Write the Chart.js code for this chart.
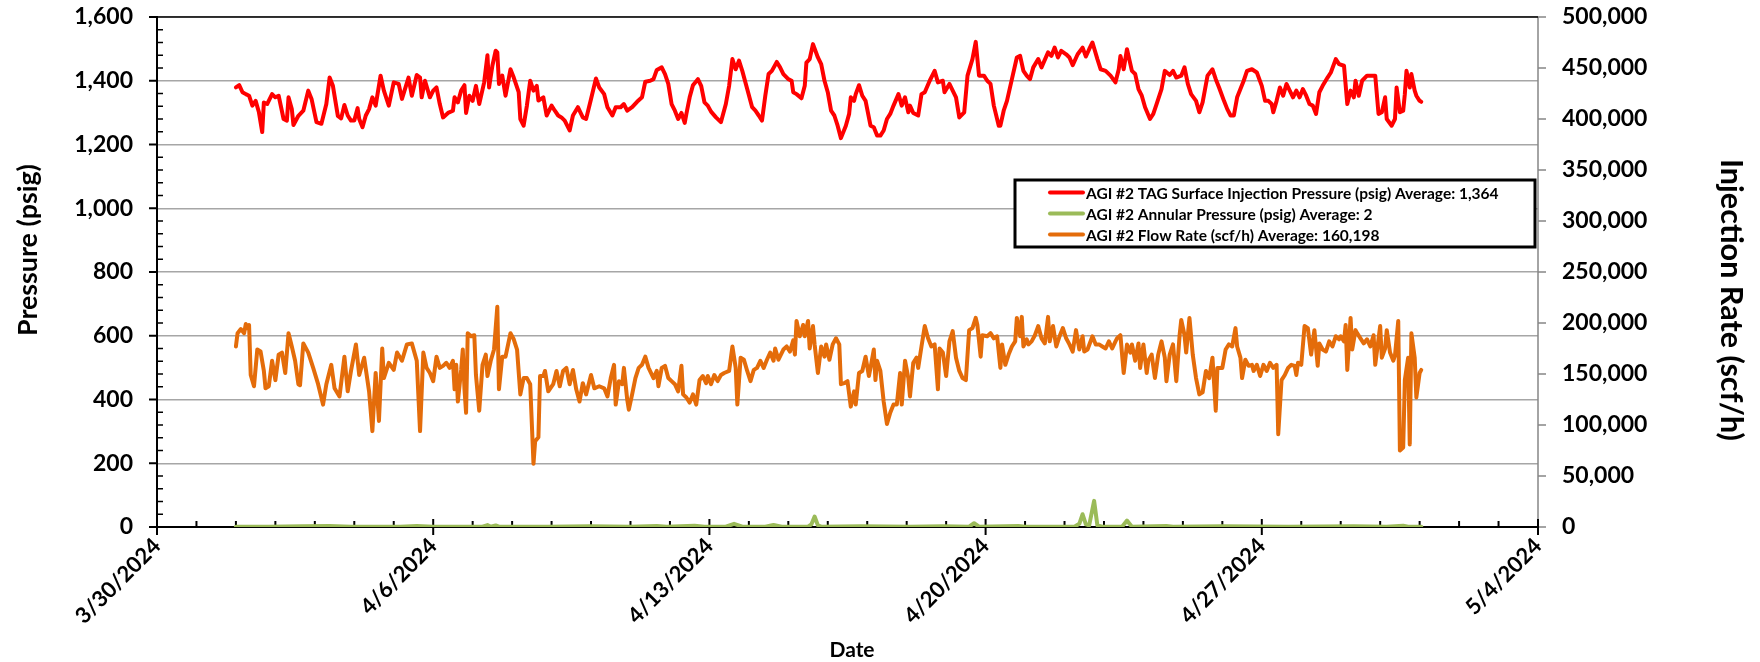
<!DOCTYPE html>
<html><head><meta charset="utf-8"><title>AGI #2 Pressure and Injection Rate</title>
<script src="https://cdn.jsdelivr.net/npm/chart.js@4.4.1/dist/chart.umd.min.js"></script>
<style>html,body{margin:0;padding:0;background:#fff;overflow:hidden}canvas{display:block}</style>
</head><body>
<canvas id="chart" width="1760" height="662" style="width:1760px;height:662px"></canvas>
<script>
// ---------------- DATA ----------------
// x axis: days counted from 3/30/2024; data hours counted from 4/1/2024 00:00
const axisStart = [2024, 2, 30];          // 3/30/2024
const xTickDays = [0, 7, 14, 21, 28, 35];  // 3/30 ... 5/4
const dataStartDay = 2;                   // 4/1/2024
const leftTicks = [0, 200, 400, 600, 800, 1000, 1200, 1400, 1600];
const rightTicks = [0, 50000, 100000, 150000, 200000, 250000, 300000, 350000, 400000, 450000, 500000];
const seriesNames = [
  'AGI #2 TAG Surface Injection Pressure (psig) Average: 1,364',
  'AGI #2 Annular Pressure (psig) Average: 2',
  'AGI #2 Flow Rate (scf/h) Average: 160,198'
];
const axisTitles = { left: 'Pressure (psig)', right: 'Injection Rate (scf/h)', bottom: 'Date' };

// [hour since 4/1 00:00, psig]
const injectionPressure = [
[0,1379],[2,1386],[4,1364],[6,1358],[8,1353],[10,1322],[12,1337],[14,1301],[16,1239],[17,1332],[19,1327],[22,1358],[24,1348],[26,1353],[29,1280],[31,1275],[32,1348],[34,1311],[35,1261],[38,1290],[41,1306],[44,1369],[46,1343],[49,1270],[52,1265],[55,1327],[57,1410],[59,1384],[62,1290],[64,1282],[66,1324],[68,1291],[70,1275],[72,1275],[74,1314],[75,1280],[77,1254],[79,1291],[81,1311],[83,1348],[85,1322],[88,1416],[90,1369],[93,1322],[96,1395],[99,1390],[101,1343],[105,1410],[107,1353],[110,1418],[112,1410],[113,1348],[115,1400],[118,1348],
[120,1369],[122,1379],[124,1327],[126,1285],[129,1299],[132,1306],[133,1348],[135,1332],[137,1369],[139,1386],[140,1299],[142,1353],[144,1337],[146,1384],[148,1327],[151,1395],[153,1480],[154,1379],[156,1447],[158,1494],[159,1489],[160,1390],[162,1416],[164,1353],[167,1436],[169,1410],[172,1364],[173,1280],[175,1259],[177,1322],[179,1400],[181,1369],[183,1384],[184,1338],[187,1348],[189,1291],[192,1322],[194,1306],[196,1291],[198,1285],[200,1275],[203,1244],[205,1291],[208,1317],[211,1285],[213,1280],[216,1343],[219,1407],[221,1379],[224,1358],[226,1317],[229,1291],[231,1317],[234,1317],[236,1327],[238,1306],
[241,1317],[244,1334],[247,1348],[249,1397],[252,1400],[254,1405],[256,1434],[259,1442],[261,1421],[263,1390],[265,1327],[267,1306],[269,1280],[271,1299],[273,1268],[274,1296],[276,1348],[278,1386],[281,1405],[283,1384],[285,1332],[287,1322],[289,1303],[292,1285],[295,1270],[298,1327],[300,1384],[302,1468],[304,1436],[306,1463],[308,1431],[311,1374],[314,1317],[316,1306],[318,1291],[320,1275],[322,1353],[324,1421],[326,1431],[329,1459],[331,1442],[333,1421],[336,1405],[338,1400],[339,1364],[341,1358],[344,1345],[346,1384],[347,1457],[349,1468],[351,1515],[354,1473],[356,1452],
[358,1400],[360,1364],[362,1306],[364,1291],[366,1259],[368,1220],[371,1259],[373,1296],[374,1348],[376,1337],[377,1358],[379,1386],[381,1353],[383,1337],[386,1259],[388,1254],[390,1228],[392,1228],[394,1244],[396,1280],[398,1296],[400,1322],[403,1358],[405,1322],[407,1348],[409,1301],[410,1322],[412,1299],[415,1291],[417,1358],[419,1364],[422,1400],[425,1431],[427,1395],[430,1400],[431,1364],[434,1390],[436,1369],[438,1348],[440,1285],[443,1301],[445,1416],[448,1468],[450,1522],[452,1416],[455,1416],[457,1400],[459,1390],[461,1322],[464,1259],[465,1259],[467,1306],[469,1337],[472,1405],[475,1473],[477,1478],
[479,1431],[481,1416],[483,1405],[485,1442],[488,1468],[490,1442],[494,1489],[496,1478],[498,1504],[500,1473],[502,1494],[505,1483],[507,1473],[509,1449],[512,1483],[515,1504],[517,1476],[519,1499],[521,1520],[524,1468],[526,1436],[529,1431],[532,1416],[535,1395],[537,1436],[538,1478],[540,1436],[542,1499],[545,1431],[547,1421],[549,1374],[551,1353],[553,1317],[556,1280],[558,1296],[560,1327],[563,1374],[565,1431],[568,1418],[570,1431],[572,1410],[575,1416],[577,1442],[579,1390],[581,1358],[584,1337],[586,1301],[588,1332],[591,1416],[594,1436],[596,1405],[598,1379],
[601,1337],[603,1311],[605,1291],[607,1291],[609,1348],[611,1374],[613,1400],[615,1431],[618,1436],[621,1426],[624,1384],[626,1337],[628,1337],[630,1327],[631,1301],[633,1337],[635,1379],[637,1353],[639,1390],[641,1369],[643,1348],[645,1369],[647,1348],[649,1374],[651,1353],[653,1327],[655,1322],[657,1296],[659,1364],[661,1384],[664,1410],[666,1426],[669,1468],[671,1452],[674,1447],[676,1327],[678,1369],[680,1348],[681,1400],[683,1353],[685,1400],[688,1416],[691,1416],[693,1416],[695,1296],[697,1301],[699,1348],[700,1280],[703,1259],[705,1280],[706,1379],[708,1301],[710,1306],[711,1358],[712,1431],[714,1379],[715,1421],[717,1369],[718,1353],[720,1337],[721,1334]
];

// [hour since 4/1 00:00, psig]
const annularPressure = [
[0,1],[20,1],[40,2],[57,3],[70,1],[100,1],[110,3],[120,1],[150,1],[153,6],[155,1],[158,5],[160,1],[190,1],[215,2],[240,1],[256,3],[262,1],[279,4],[285,1],[298,1],[303,10],[308,1],[322,1],[327,6],[332,1],[348,1],[350,8],[352,33],[354,5],[356,1],[380,2],[410,1],[430,2],[446,1],[449,12],[452,1],[476,3],[480,1],[510,1],[513,10],[515,40],[517,8],[519,5],[522,82],[524,5],[527,1],[539,1],[542,20],[545,1],[566,3],[570,1],[600,2],[640,1],[680,2],[700,1],[710,4],[713,1],[721,1]
];

// [hour since 4/1 00:00, thousand scf/h]
const flowRateK = [
[0,177],[1,190],[3,194],[5,190],[6,199],[7,195],[8,198],[9,149],[11,138],[13,174],[15,172],[17,153],[18,136],[20,138],[22,163],[24,144],[26,169],[28,171],[30,151],[32,190],[34,177],[36,163],[38,140],[39,139],[41,180],[44,171],[47,156],[50,140],[53,120],[55,140],[58,159],[60,136],[63,128],[66,167],[68,133],[70,153],[73,179],[75,149],[78,166],[81,133],[83,94],[85,151],[87,104],[89,175],[90,146],[93,161],[96,154],[98,171],[101,163],[104,179],[107,180],[110,163],[112,94],[114,171],[116,156],[118,151],
[120,143],[122,167],[124,156],[126,158],[128,161],[130,156],[132,163],[133,135],[134,159],[135,123],[137,154],[138,174],[139,136],[140,112],[141,190],[143,187],[145,188],[146,149],[148,114],[150,159],[152,169],[153,148],[155,163],[157,174],[159,216],[160,135],[162,167],[164,167],[167,190],[169,184],[171,174],[173,130],[175,146],[177,146],[179,140],[181,62],[182,84],[184,88],[185,148],[187,148],[188,153],[190,133],[193,140],[195,153],[197,138],[199,153],[201,156],[203,140],[205,154],[207,135],[209,123],[211,141],[213,130],[216,149],[218,136],[221,138],[224,136],[226,128],[228,146],[230,159],[231,120],[233,143],[235,140],[236,156],[238,125],
[239,115],[241,130],[243,146],[245,156],[247,159],[249,167],[251,156],[254,146],[256,153],[257,138],[259,156],[261,158],[263,146],[265,143],[267,140],[269,133],[271,158],[272,130],[274,127],[276,122],[278,130],[280,120],[282,144],[284,148],[286,141],[287,148],[289,140],[291,149],[293,143],[295,149],[297,151],[300,153],[302,177],[304,156],[305,120],[307,166],[309,164],[311,153],[313,143],[315,154],[317,156],[319,163],[321,156],[323,164],[325,171],[327,163],[328,175],[330,164],[333,174],[335,177],[337,172],[339,183],[340,169],[341,202],[343,187],[345,198],[346,187],[348,202],[349,175],[351,197],[352,179],[354,151],[356,177],[358,167],
[359,179],[361,164],[363,179],[365,185],[367,179],[368,140],[370,141],[372,143],[374,118],[376,133],[377,120],[379,151],[381,153],[383,167],[385,148],[386,156],[388,174],[389,144],[390,163],[392,153],[394,123],[396,101],[398,112],[400,120],[402,120],[404,151],[405,120],[407,163],[409,146],[410,128],[412,161],[414,166],[415,156],[417,177],[419,197],[421,185],[423,177],[425,179],[427,135],[428,175],[430,171],[432,148],[434,182],[436,192],[438,166],[440,153],[442,146],[444,144],[446,193],[448,195],[450,205],[451,198],[453,167],[454,188],[457,187],[459,190],[461,185],[463,187],[465,156],[466,179],[468,159],[470,169],[472,177],[474,182],[475,205],[477,187],
[478,206],[479,177],[481,184],[482,179],[484,182],[486,188],[488,197],[490,185],[492,180],[494,206],[495,182],[497,197],[499,177],[501,187],[503,195],[505,185],[507,179],[509,172],[511,193],[513,174],[515,187],[516,172],[518,174],[521,187],[523,179],[525,179],[527,177],[529,175],[531,182],[533,175],[535,182],[536,185],[538,188],[540,151],[542,179],[544,171],[545,179],[547,163],[549,180],[550,156],[552,179],[554,151],[555,163],[557,169],[559,146],[561,169],[563,182],[565,166],[566,143],[568,169],[570,179],[572,143],[574,188],[575,203],[577,188],[578,171],[580,205],[582,169],[584,146],[586,130],[588,132],[590,153],[592,146],[594,166],[596,114],[597,156],
[598,156],[600,156],[602,174],[604,179],[606,177],[608,195],[609,177],[611,166],[612,146],[614,164],[616,158],[618,159],[619,153],[621,159],[623,148],[625,159],[627,153],[629,161],[631,156],[633,159],[634,91],[636,144],[638,149],[640,156],[642,159],[644,158],[645,149],[646,161],[648,159],[650,197],[652,195],[654,169],[656,193],[658,158],[659,180],[661,174],[663,172],[665,182],[667,177],[669,187],[671,184],[672,187],[674,182],[675,198],[676,154],[678,205],[679,174],[681,193],[682,190],[684,185],[686,180],[688,184],[690,177],[692,188],[693,159],[696,197],[697,166],[699,175],[700,193],[702,171],[704,163],[705,168],[707,202],[708,75],[710,78],[711,144],[713,166],[714,81],[715,190],[717,166],[718,127],[720,151],[721,154]
];

// ---------------- STYLE ----------------
const COLORS = { injection: '#FF0000', annular: '#9BBB59', flow: '#E46C0A' };
const FONT = 'Lato';
const yMinorStep = 40;
const xMinorStep = 1;

function toPoints(pairs, factor) {
  return pairs.map(p => ({ x: dataStartDay + p[0] / 24, y: p[1] * factor }));
}
function fmtDate(dayOffset) {
  const d = new Date(axisStart[0], axisStart[1], axisStart[2] + Math.round(dayOffset));
  return (d.getMonth() + 1) + '/' + d.getDate() + '/' + d.getFullYear();
}
function fmtNum(v) { return Number(v).toLocaleString('en-US'); }
function seg(ctx, x1, y1, x2, y2) { ctx.beginPath(); ctx.moveTo(x1, y1); ctx.lineTo(x2, y2); ctx.stroke(); }
function fitSize(ctx, text, base, target) {
  ctx.font = 'bold ' + base + 'px ' + FONT;
  const w = ctx.measureText(text).width;
  return base * target / w;
}

const axisDecor = {
  id: 'axisDecor',
  beforeDatasetsDraw(chart) {
    const { ctx, chartArea: a, scales } = chart;
    const x = scales.x, y = scales.y, y1 = scales.y1;
    ctx.save();
    ctx.lineCap = 'butt';
    ctx.strokeStyle = '#000';
    ctx.lineWidth = 2;
    leftTicks.forEach(v => { const py = y.getPixelForValue(v); seg(ctx, a.left - 8, py, a.left, py); });
    ctx.lineWidth = 1.5;
    for (let v = 0; v <= 1600; v += yMinorStep) {
      if (leftTicks.includes(v)) continue;
      const py = y.getPixelForValue(v);
      seg(ctx, a.left, py, a.left + 6, py);
    }
    ctx.strokeStyle = '#868686';
    ctx.lineWidth = 1.5;
    rightTicks.forEach(v => { const py = y1.getPixelForValue(v); seg(ctx, a.right, py, a.right + 8, py); });
    seg(ctx, a.right, a.top, a.right, a.bottom);
    ctx.strokeStyle = '#000';
    ctx.lineWidth = 2;
    for (let d = xTickDays[0]; d <= xTickDays[xTickDays.length - 1]; d += xMinorStep) {
      const px = x.getPixelForValue(d);
      if (xTickDays.includes(d)) seg(ctx, px, a.bottom - 8, px, a.bottom + 8);
      else seg(ctx, px, a.bottom - 6, px, a.bottom);
    }
    ctx.lineWidth = 1.5;
    seg(ctx, a.left, a.top, a.right, a.top);
    ctx.lineWidth = 2;
    seg(ctx, a.left, a.top - 1, a.left, a.bottom + 1);
    seg(ctx, a.left, a.bottom, a.right, a.bottom);
    ctx.restore();
  }
};

const legendAndTitles = {
  id: 'legendAndTitles',
  afterDraw(chart) {
    const ctx = chart.ctx;
    ctx.save();
    const bx = 1015, by = 180, bw = 520, bh = 67;
    ctx.fillStyle = '#fff';
    ctx.fillRect(bx, by, bw, bh);
    ctx.strokeStyle = '#000';
    ctx.lineWidth = 3;
    ctx.strokeRect(bx, by, bw, bh);
    const legSize = fitSize(ctx, seriesNames[0], 14, 413);
    ctx.font = 'bold ' + legSize.toFixed(2) + 'px ' + FONT;
    ctx.textBaseline = 'middle';
    ctx.textAlign = 'left';
    chart.data.datasets.forEach((ds, i) => {
      const ry = 192.5 + i * 21;
      ctx.strokeStyle = ds.borderColor;
      ctx.lineWidth = 4;
      ctx.lineCap = 'round';
      seg(ctx, 1050, ry, 1083, ry);
      ctx.fillStyle = '#000';
      ctx.fillText(ds.label, 1086, ry + 1);
    });
    ctx.fillStyle = '#000';
    ctx.textAlign = 'center';
    ctx.textBaseline = 'middle';
    const tSize = fitSize(ctx, axisTitles.left, 24, 172);
    ctx.font = 'bold ' + tSize.toFixed(2) + 'px ' + FONT;
    ctx.save();
    ctx.translate(28, 250);
    ctx.rotate(-Math.PI / 2);
    ctx.fillText(axisTitles.left, 0, 0);
    ctx.restore();
    const rSize = fitSize(ctx, axisTitles.right, 24, 282);
    ctx.font = 'bold ' + rSize.toFixed(2) + 'px ' + FONT;
    ctx.save();
    ctx.translate(1731, 300);
    ctx.rotate(Math.PI / 2);
    ctx.fillText(axisTitles.right, 0, 0);
    ctx.restore();
    ctx.font = 'bold 21px ' + FONT;
    ctx.fillText(axisTitles.bottom, 852, 650);
    ctx.restore();
  }
};

function build() {
  const tickFont = { family: FONT, weight: 'bold', size: 23 };
  new Chart(document.getElementById('chart'), {
    type: 'line',
    data: {
      datasets: [
        { label: seriesNames[0], data: toPoints(injectionPressure, 1), yAxisID: 'y',
          borderColor: COLORS.injection, backgroundColor: COLORS.injection },
        { label: seriesNames[1], data: toPoints(annularPressure, 1), yAxisID: 'y',
          borderColor: COLORS.annular, backgroundColor: COLORS.annular },
        { label: seriesNames[2], data: toPoints(flowRateK, 1000), yAxisID: 'y1',
          borderColor: COLORS.flow, backgroundColor: COLORS.flow }
      ]
    },
    options: {
      responsive: false,
      animation: false,
      devicePixelRatio: 1,
      parsing: false,
      layout: { padding: { top: 17, left: 0, right: 0, bottom: 0 } },
      elements: {
        point: { radius: 0, hoverRadius: 0 },
        line: { borderWidth: 4, tension: 0, borderJoinStyle: 'round', borderCapStyle: 'round', fill: false }
      },
      plugins: { legend: { display: false }, tooltip: { enabled: false }, title: { display: false } },
      scales: {
        x: {
          type: 'linear', position: 'bottom',
          min: xTickDays[0], max: xTickDays[xTickDays.length - 1],
          afterBuildTicks: s => { s.ticks = xTickDays.map(v => ({ value: v })); },
          ticks: { autoSkip: false, maxRotation: 45, minRotation: 45, padding: -2, color: '#000',
                   font: { family: FONT, weight: 'bold', size: 22 }, callback: v => fmtDate(v) },
          grid: { display: false },
          border: { display: false },
          afterFit: s => { s.height = 135; }
        },
        y: {
          type: 'linear', position: 'left', min: 0, max: 1600,
          afterBuildTicks: s => { s.ticks = leftTicks.map(v => ({ value: v })); },
          ticks: { color: '#000', font: tickFont, padding: 0, callback: v => fmtNum(v) },
          grid: { color: '#a6a6a6', lineWidth: 1.5, drawTicks: true, tickLength: 24, tickColor: 'rgba(0,0,0,0)' },
          border: { display: false },
          afterFit: s => { s.width = 157; }
        },
        y1: {
          type: 'linear', position: 'right', min: 0, max: 500000,
          afterBuildTicks: s => { s.ticks = rightTicks.map(v => ({ value: v })); },
          ticks: { color: '#000', font: tickFont, padding: 0, callback: v => fmtNum(v) },
          grid: { drawOnChartArea: false, drawTicks: true, tickLength: 24, tickColor: 'rgba(0,0,0,0)' },
          border: { display: false },
          afterFit: s => { s.width = 222; }
        }
      }
    },
    plugins: [axisDecor, legendAndTitles]
  });
}

const fontReady = (document.fonts && document.fonts.load)
  ? Promise.all([document.fonts.load('bold 22px Lato'), document.fonts.load('bold 14px Lato')]).catch(() => {})
  : Promise.resolve();
fontReady.then(build, build);
</script>
</body></html>
